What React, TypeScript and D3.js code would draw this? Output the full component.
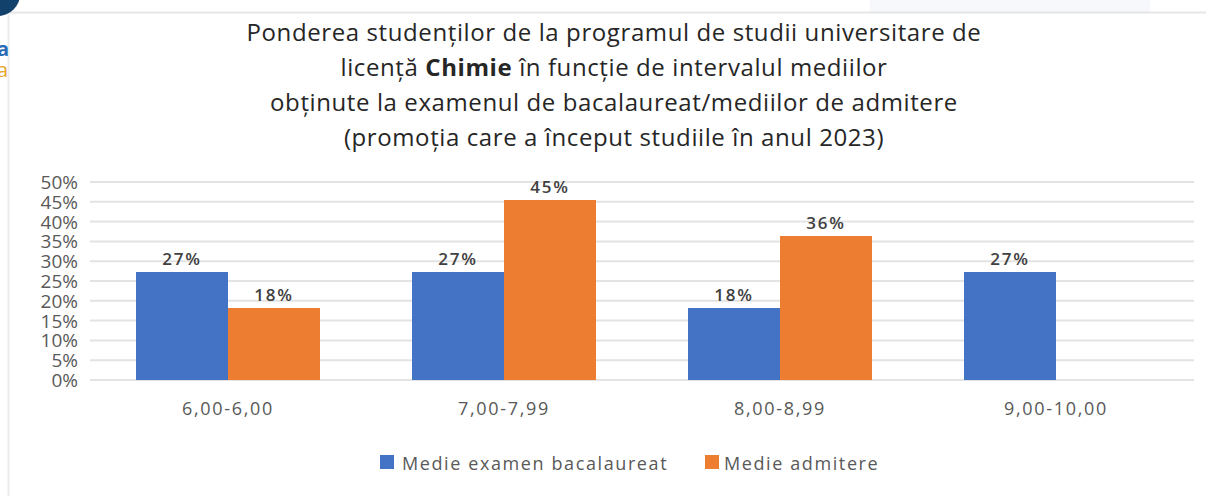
import React from "react";
import * as d3 from "d3";

const categories = ["6,00-6,00", "7,00-7,99", "8,00-8,99", "9,00-10,00"];
const seriesNames = ["Medie examen bacalaureat", "Medie admitere"];
const bacValues = [27.27, 27.27, 18.18, 27.27];
const admValues = [18.18, 45.45, 36.36, 0];
const yTicks = [0, 5, 10, 15, 20, 25, 30, 35, 40, 45, 50];
const titleLines = [
  "Ponderea studenților de la programul de studii universitare de",
  "__CHIMIE__",
  "obținute la examenul de bacalaureat/mediilor de admitere",
  "(promoția care a început studiile în anul 2023)",
];
const colors = ["#4472C4", "#ED7D31"];

const W = 1206;
const H = 496;
const FONT = "'Open Sans', 'Noto Sans', sans-serif";

export default function App() {
  const x0 = d3.scaleBand<string>().domain(categories).range([90, 1194]).padding(0);
  const x1 = d3
    .scaleBand<string>()
    .domain(seriesNames)
    .range([x0.bandwidth() / 6, (x0.bandwidth() * 5) / 6])
    .padding(0);
  const y = d3.scaleLinear().domain([0, 50]).range([380, 182]);
  const series = [bacValues, admValues];

  return (
    <svg
      width={W}
      height={H}
      style={{ position: "absolute", left: 0, top: 0, background: "#fff" }}
      fontFamily={FONT}
    >
      {/* page decorations */}
      <rect x={870} y={0} width={280} height={12} fill="#f7f8fc" />
      <line x1={8} y1={12.5} x2={W} y2={12.5} stroke="#e6e6e6" strokeWidth={2} />
      <line x1={8.5} y1={12} x2={8.5} y2={H} stroke="#ececec" strokeWidth={2} />
      <circle cx={-2} cy={-6} r={22} fill="#12416b" />
      <text x={-3} y={56} fontSize={20} fontWeight={700} fill="#2a6bb5">a</text>
      <text x={-3} y={77} fontSize={20} fill="#e8a62a">a</text>

      {/* title */}
      <g fontSize={24} fill="#262626" textAnchor="middle" letterSpacing={0.6}>
        {titleLines.map((t, i) =>
          t === "__CHIMIE__" ? (
            <text key={i} x={614} y={41 + i * 35}>
              licență <tspan fontWeight={700}>Chimie</tspan> în funcție de intervalul mediilor
            </text>
          ) : (
            <text key={i} x={614} y={41 + i * 35}>
              {t}
            </text>
          )
        )}
      </g>

      {/* gridlines */}
      <g>
        {yTicks.map((t) => (
          <line
            key={t}
            x1={90}
            x2={1194}
            y1={y(t)}
            y2={y(t)}
            stroke="#e3e3e3"
            strokeWidth={2}
          />
        ))}
      </g>

      {/* y labels */}
      <g fontSize={19} fill="#595959" textAnchor="end">
        {yTicks.map((t) => (
          <text key={t} x={78} y={y(t) + 7}>
            {t}%
          </text>
        ))}
      </g>

      {/* bars */}
      {categories.map((c, ci) => (
        <g key={c} transform={`translate(${x0(c)},0)`}>
          {seriesNames.map((s, si) => {
            const v = series[si][ci];
            if (!v) return null;
            return (
              <g key={s}>
                <rect
                  x={x1(s)}
                  y={y(v)}
                  width={x1.bandwidth()}
                  height={y(0) - y(v)}
                  fill={colors[si]}
                />
                <text
                  x={(x1(s) as number) + x1.bandwidth() / 2}
                  y={y(v) - 7}
                  textAnchor="middle"
                  fontSize={17}
                  fontWeight={600}
                  letterSpacing={1.8}
                  fill="#404040"
                >
                  {Math.round(v)}%
                </text>
              </g>
            );
          })}
        </g>
      ))}

      {/* x labels */}
      <g fontSize={18} fill="#595959" textAnchor="middle" letterSpacing={1.7}>
        {categories.map((c) => (
          <text key={c} x={(x0(c) as number) + x0.bandwidth() / 2} y={415}>
            {c}
          </text>
        ))}
      </g>

      {/* legend */}
      <g fontSize={18} fill="#595959" letterSpacing={1.6}>
        <rect x={380} y={455} width={14} height={14} fill={colors[0]} />
        <text x={402} y={470}>{seriesNames[0]}</text>
        <rect x={705} y={455} width={14} height={14} fill={colors[1]} />
        <text x={724} y={470}>{seriesNames[1]}</text>
      </g>
    </svg>
  );
}
